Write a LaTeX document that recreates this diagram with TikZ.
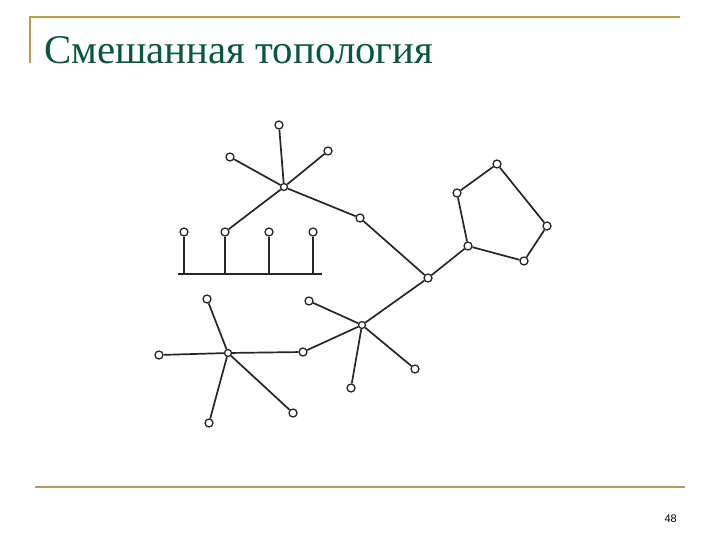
\documentclass[tikz,border=0pt]{standalone}
\usepackage{fontspec}
\setmainfont{Liberation Serif}
\newfontfamily\numfont{Liberation Sans}
\usetikzlibrary{calc,positioning}
\definecolor{titlegreen}{RGB}{10,88,58}
\definecolor{rulegold}{RGB}{185,155,85}

\begin{document}
\begin{tikzpicture}[x=1pt,y=-1pt,
  host/.style={circle,draw=black!85,line width=1.3pt,fill=white,inner sep=0pt,minimum size=8pt},
  hub/.style={host,minimum size=7pt},
  link/.style={draw=black!85,line width=1.7pt}]
  \useasboundingbox (0,0) rectangle (720,540);

  % frame
  \draw[rulegold,line width=1.8pt] (30,63) -- (30,17) -- (680,17);
  \draw[rulegold,line width=2.6pt] (35,487) -- (685,487);
  \node[anchor=base west,inner sep=0pt,text=titlegreen,font=\fontsize{40.8}{48}\selectfont] (title) at (44,64) {Смешанная топология};
  \node[anchor=base east,inner sep=0pt,font=\numfont\fontsize{11}{13}\selectfont] (page) at (677,522) {48};

  % top star
  \node[hub] (a) at (284,187) {};
  \node[host] (a1) at (279,125) {};
  \node[host] (a2) at (230,157) {};
  \node[host] (a3) at (328,151) {};
  \node[host] (a4) at (360,218) {};

  % bus
  \coordinate (b0) at (178,274);
  \coordinate (b5) at (322,274);
  \node[host] (b1) at (184,232) {};
  \node[host] (b2) at (225,232) {};
  \node[host] (b3) at (269,232) {};
  \node[host] (b4) at (313,232) {};

  % ring
  \node[host] (r1) at (468,246) {};
  \node[host] (r2) at (457,193) {};
  \node[host] (r3) at (497,164) {};
  \node[host] (r4) at (547,226) {};
  \node[host] (r5) at (524,261) {};

  % middle
  \node[host] (m) at (428,278) {};

  % right star
  \node[hub] (c) at (362,325) {};
  \node[host] (c1) at (309,301) {};
  \node[host] (c2) at (415,369) {};
  \node[host] (c3) at (351,388) {};
  \node[host] (c4) at (303,352) {};

  % left star
  \node[hub] (d) at (228,353) {};
  \node[host] (d1) at (207,299) {};
  \node[host] (d2) at (159,355) {};
  \node[host] (d3) at (209,423) {};
  \node[host] (d4) at (293,413) {};

  \draw[link] (b0) -- (b5);
  \foreach \n in {1,...,4}
    \draw[link] (b\n) -- (b\n |- b0);

  \foreach \u/\v in {a/a1,a/a2,a/a3,a/a4,a/b2,a4/m,m/r1,r1/r2,r2/r3,r3/r4,r4/r5,r5/r1,
                     m/c,c/c1,c/c2,c/c3,c/c4,c4/d,d/d1,d/d2,d/d3,d/d4}
    \draw[link] (\u) -- (\v);
\end{tikzpicture}
\end{document}
